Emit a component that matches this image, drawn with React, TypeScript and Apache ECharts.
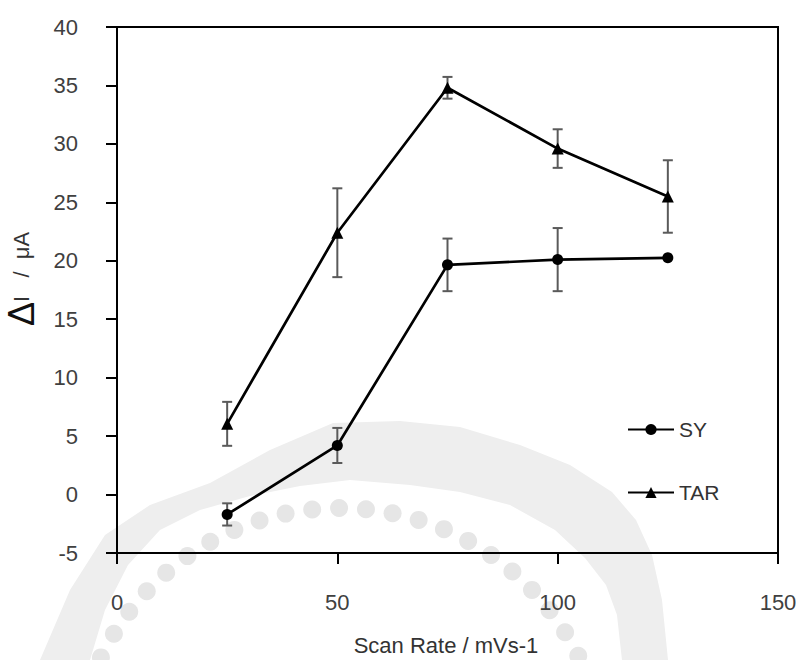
import React, { useEffect, useRef } from "react";
import * as echarts from "echarts";

const scanRates = [25, 50, 75, 100, 125];
const syValues = [-1.7, 4.2, 19.65, 20.1, 20.25];
const syErrors = [0.95, 1.5, 2.25, 2.7, 0];
const tarValues = [6.05, 22.4, 34.8, 29.6, 25.5];
const tarErrors = [1.88, 3.8, 0.93, 1.65, 3.1];
const xTitle = "Scan Rate / mVs-1";
const seriesNames = ["SY", "TAR"];

const FONT = "'Liberation Sans', Arial, sans-serif";

function errorData(vals: number[], errs: number[]) {
  return scanRates.map((x, i) => [x, vals[i] - errs[i], vals[i] + errs[i]]);
}

function errorSeries(vals: number[], errs: number[]) {
  return {
    type: "custom",
    z: 1,
    silent: true,
    data: errorData(vals, errs),
    renderItem: (params: any, api: any) => {
      const x = api.value(0);
      const lo = api.value(1);
      const hi = api.value(2);
      if (hi - lo < 1e-9) return null;
      const pHi = api.coord([x, hi]);
      const pLo = api.coord([x, lo]);
      const w = 5;
      const st = { stroke: "#5a5a5a", lineWidth: 2 };
      return {
        type: "group",
        children: [
          { type: "line", shape: { x1: pHi[0], y1: pHi[1], x2: pLo[0], y2: pLo[1] }, style: st },
          { type: "line", shape: { x1: pHi[0] - w, y1: pHi[1], x2: pHi[0] + w, y2: pHi[1] }, style: st },
          { type: "line", shape: { x1: pLo[0] - w, y1: pLo[1], x2: pLo[0] + w, y2: pLo[1] }, style: st },
        ],
      };
    },
  };
}

// faint background seal (watermark) approximation
const bandPoints: number[][] = [
  [40, 660], [70, 590], [105, 535], [150, 505], [210, 483], [270, 450], [333, 423],
  [400, 421], [460, 427], [520, 445], [570, 465], [612, 492], [636, 520], [652, 555],
  [662, 600], [668, 660], [622, 660], [617, 615], [606, 585], [585, 558], [555, 530],
  [510, 505], [460, 492], [410, 485], [350, 480], [300, 486], [250, 496], [200, 510],
  [160, 530], [128, 565], [105, 610], [90, 660],
];

function watermark() {
  const els: any[] = [
    {
      type: "polygon",
      z: -10,
      silent: true,
      shape: { points: bandPoints },
      style: { fill: "#eeeeee" },
    },
  ];
  const cx = 340, cy = 774, r = 266;
  for (let a = -64; a <= 64; a += 5.8) {
    const rad = (a * Math.PI) / 180;
    els.push({
      type: "circle",
      z: -10,
      silent: true,
      shape: { cx: cx + r * Math.sin(rad), cy: cy - r * Math.cos(rad), r: 9 },
      style: { fill: "#e6e6e6" },
    });
  }
  return els;
}

export default function App() {
  const ref = useRef<HTMLDivElement>(null);
  useEffect(() => {
    document.body.style.margin = "0";
    if (!ref.current) return;
    const chart = echarts.init(ref.current, null, { renderer: "svg" });
    chart.setOption({
      animation: false,
      backgroundColor: "#ffffff",
      textStyle: { fontFamily: FONT },
      grid: {
        left: 117,
        right: 23,
        top: 27,
        bottom: 107,
        show: true,
        borderColor: "#000",
        borderWidth: 2,
        containLabel: false,
      },
      legend: {
        orient: "vertical",
        left: 622,
        top: 414,
        itemWidth: 46,
        itemHeight: 14,
        itemGap: 42,
        data: seriesNames,
        textStyle: { fontSize: 21, color: "#333", fontFamily: FONT },
        selectedMode: false,
      },
      xAxis: {
        type: "value",
        min: 0,
        max: 150,
        interval: 50,
        splitLine: { show: false },
        axisLine: { onZero: false, lineStyle: { color: "#000", width: 2 } },
        axisTick: { show: true, inside: false, length: 11, lineStyle: { color: "#000", width: 2 } },
        axisLabel: { margin: 38, fontSize: 22, color: "#404040", fontFamily: FONT },
      },
      yAxis: {
        type: "value",
        min: -5,
        max: 40,
        interval: 5,
        splitLine: { show: false },
        axisLine: { show: true, onZero: false, lineStyle: { color: "#000", width: 2 } },
        axisTick: { show: true, inside: false, length: 11, lineStyle: { color: "#000", width: 2 } },
        axisLabel: { margin: 39, fontSize: 22, color: "#404040", fontFamily: FONT },
      },
      graphic: [
        ...watermark(),
        {
          type: "text",
          x: 446,
          y: 645,
          style: {
            text: xTitle,
            fontSize: 22,
            fill: "#333",
            fontFamily: FONT,
            textAlign: "center",
            textVerticalAlign: "middle",
          },
        },
        {
          type: "text",
          x: 21,
          y: 279,
          rotation: Math.PI / 2,
          style: {
            text: "{d|Δ}{t|I   /  μA}",
            textAlign: "center",
            textVerticalAlign: "middle",
            rich: {
              d: { fontSize: 36, fill: "#111", fontFamily: FONT },
              t: { fontSize: 22, fill: "#333", fontFamily: FONT },
            },
          },
        },
      ],
      series: [
        errorSeries(syValues, syErrors),
        errorSeries(tarValues, tarErrors),
        {
          name: "SY",
          type: "line",
          z: 3,
          data: scanRates.map((x, i) => [x, syValues[i]]),
          symbol: "circle",
          symbolSize: 11,
          lineStyle: { color: "#000", width: 2.7 },
          itemStyle: { color: "#000" },
        },
        {
          name: "TAR",
          type: "line",
          z: 3,
          data: scanRates.map((x, i) => [x, tarValues[i]]),
          symbol: "triangle",
          symbolSize: 12,
          lineStyle: { color: "#000", width: 2.7 },
          itemStyle: { color: "#000" },
        },
      ],
    });
    return () => chart.dispose();
  }, []);
  return <div ref={ref} style={{ width: 801, height: 660 }} />;
}
